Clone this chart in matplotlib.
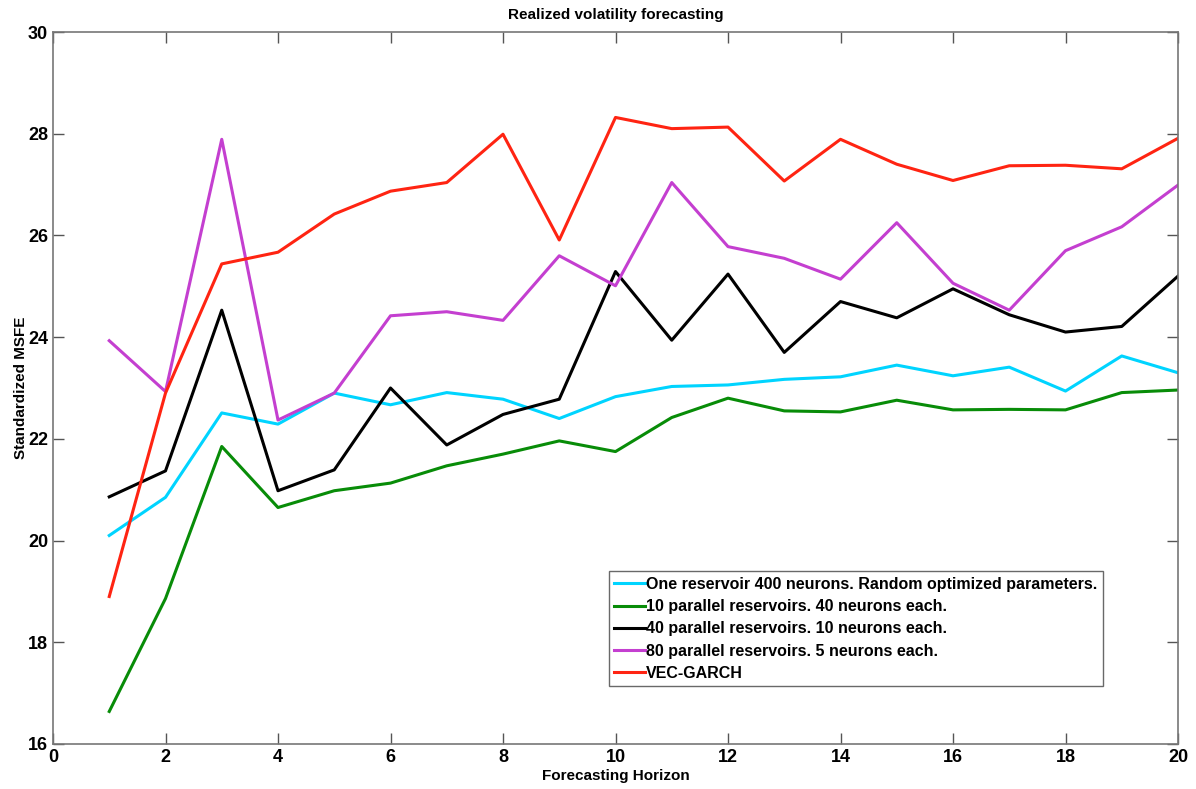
import matplotlib
matplotlib.use('Agg')
import matplotlib.pyplot as plt

horizon = list(range(1, 21))
one_reservoir = [20.10, 20.85, 22.51, 22.29, 22.90, 22.67, 22.91, 22.78, 22.40, 22.83,
                 23.03, 23.06, 23.17, 23.22, 23.45, 23.24, 23.41, 22.94, 23.63, 23.30]
par10 = [16.64, 18.86, 21.85, 20.65, 20.98, 21.13, 21.47, 21.70, 21.96, 21.75,
         22.42, 22.80, 22.55, 22.53, 22.76, 22.57, 22.58, 22.57, 22.91, 22.96]
par40 = [20.86, 21.37, 24.53, 20.98, 21.39, 23.00, 21.88, 22.48, 22.78, 25.29,
         23.94, 25.24, 23.70, 24.70, 24.38, 24.95, 24.44, 24.10, 24.21, 25.20]
par80 = [23.93, 22.93, 27.89, 22.37, 22.90, 24.42, 24.50, 24.33, 25.60, 25.01,
         27.04, 25.78, 25.55, 25.14, 26.25, 25.06, 24.53, 25.70, 26.17, 26.99]
vec_garch = [18.90, 22.90, 25.44, 25.67, 26.42, 26.87, 27.04, 27.99, 25.91, 28.32,
             28.10, 28.13, 27.07, 27.89, 27.40, 27.08, 27.37, 27.38, 27.31, 27.91]

labels = ['One reservoir 400 neurons. Random optimized parameters.',
          '10 parallel reservoirs. 40 neurons each.',
          '40 parallel reservoirs. 10 neurons each.',
          '80 parallel reservoirs. 5 neurons each.',
          'VEC-GARCH']
series = [one_reservoir, par10, par40, par80, vec_garch]
colors = ['#00d4ff', '#088c08', '#000000', '#c43fd0', '#ff2412']

plt.rcParams['font.family'] = ['Liberation Sans', 'DejaVu Sans']
plt.rcParams['font.weight'] = 'bold'

fig = plt.figure(figsize=(11.96, 7.89), dpi=100)
ax = fig.add_axes([53 / 1196, 1 - 744 / 789, 1125 / 1196, 712 / 789])

for y, c, lab in zip(series, colors, labels):
    ax.plot(horizon, y, color=c, lw=2.2, label=lab)

ax.set_xlim(0, 20)
ax.set_ylim(16, 30)
ax.set_xticks(range(0, 21, 2))
ax.set_yticks(range(16, 31, 2))
ax.tick_params(direction='in', length=8, width=1, colors='#555555',
               labelcolor='black', labelsize=13, top=True, right=True)
for lbl in ax.get_xticklabels() + ax.get_yticklabels():
    lbl.set_fontweight('bold')
for s in ax.spines.values():
    s.set_color('#777777')
    s.set_linewidth(1.2)

ax.set_xlabel('Forecasting Horizon', fontsize=11, fontweight='bold', labelpad=2)
ax.set_ylabel('Standardized MSFE', fontsize=11, fontweight='bold', labelpad=0)
ax.set_title('Realized volatility forecasting', fontsize=11, fontweight='bold', pad=9)

leg = ax.legend(loc='lower left', bbox_to_anchor=(0.494, 0.081), fontsize=11.5,
                frameon=True, fancybox=False, handlelength=1.9, handletextpad=0.1,
                borderpad=0.35, labelspacing=0.45, borderaxespad=0)
leg.get_frame().set_edgecolor('#444444')
leg.get_frame().set_linewidth(1.0)
for t in leg.get_texts():
    t.set_fontweight('bold')

fig.savefig('out.png', dpi=100)
